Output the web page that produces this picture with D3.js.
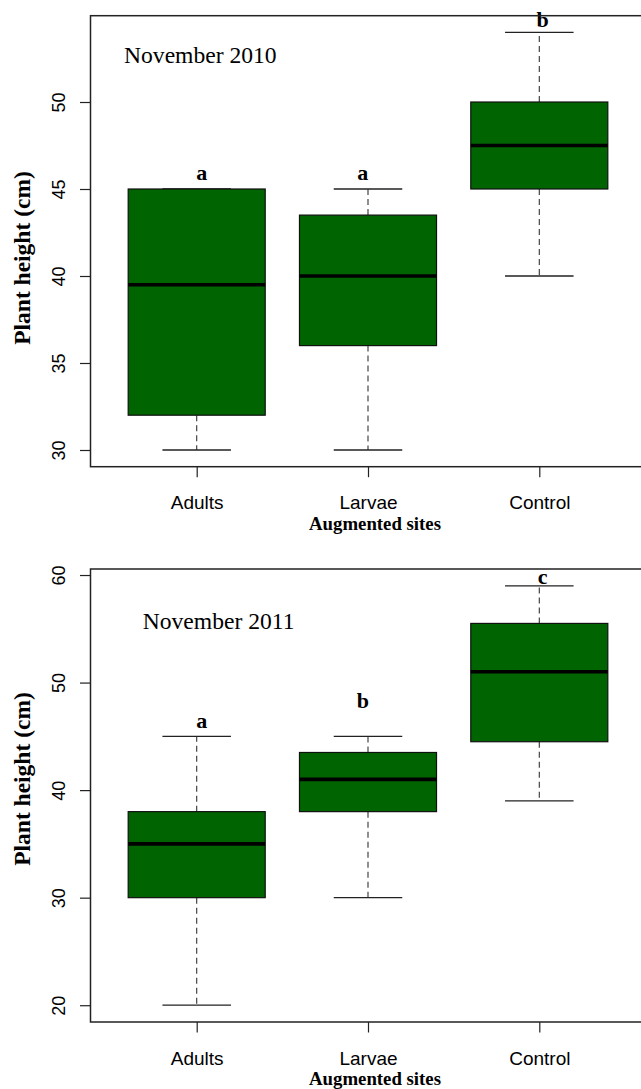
<!DOCTYPE html>
<html>
<head>
<meta charset="utf-8">
<script src="https://cdn.jsdelivr.net/npm/d3@7"></script>
<style>
  body { margin: 0; background: #ffffff; }
  svg { display: block; }
</style>
</head>
<body>
<div id="plant_chart"></div>
<script>
// groups on the x axis
var categories = ["Adults", "Larvae", "Control"];

// November 2010 box statistics (cm)
var nov2010Min    = [30, 30, 40];
var nov2010Q1     = [32, 36, 45];
var nov2010Median = [39.5, 40, 47.5];
var nov2010Q3     = [45, 43.5, 50];
var nov2010Max    = [45, 45, 54];
var nov2010Letters = ["a", "a", "b"];
var nov2010LetterY = [45.5, 45.5, 54.3];
var nov2010Ticks  = [30, 35, 40, 45, 50];

// November 2011 box statistics (cm)
var nov2011Min    = [20, 30, 39];
var nov2011Q1     = [30, 38, 44.5];
var nov2011Median = [35, 41, 51];
var nov2011Q3     = [38, 43.5, 55.5];
var nov2011Max    = [45, 45, 59];
var nov2011Letters = ["a", "b", "c"];
var nov2011LetterY = [45.8, 47.6, 59.2];
var nov2011Ticks  = [20, 30, 40, 50, 60];

// letters sit a little off the box centres
var letterX = [1.03, 1.97, 3.02];

var panelTitles = ["November 2010", "November 2011"];

function makeBoxes(mins, q1s, meds, q3s, maxs, letters, letterY) {
    return categories.map(function(c, i) {
        return {name: c, pos: i + 1, min: mins[i], q1: q1s[i], med: meds[i],
                q3: q3s[i], max: maxs[i], letter: letters[i], ly: letterY[i], lx: letterX[i]};
    });
}

var panels = [
    {title: panelTitles[0], ticks: nov2010Ticks,
     boxes: makeBoxes(nov2010Min, nov2010Q1, nov2010Median, nov2010Q3, nov2010Max, nov2010Letters, nov2010LetterY),
     top: 15.7, bottom: 466.7, titleX: 124, titleY: 63.3, ylabY: 258},
    {title: panelTitles[1], ticks: nov2011Ticks,
     boxes: makeBoxes(nov2011Min, nov2011Q1, nov2011Median, nov2011Q3, nov2011Max, nov2011Letters, nov2011LetterY),
     top: 569, bottom: 1022, titleX: 142.7, titleY: 629, ylabY: 779}
];

var width = 641, height = 1089;
var plotLeft = 90.5, plotRight = 645.5;

var svg = d3.select("#plant_chart")
  .append("svg")
    .attr("width", width)
    .attr("height", height);

svg.append("rect")
    .attr("width", width)
    .attr("height", height)
    .attr("fill", "#ffffff");

// R style x range: 0.5..n+0.5 widened by 4%
var n = categories.length;
var x = d3.scaleLinear()
    .domain([0.5 - 0.04 * n, n + 0.5 + 0.04 * n])
    .range([plotLeft, plotRight]);

var boxHalf = x(1.4) - x(1);
var capHalf = boxHalf / 2;

panels.forEach(function(p) {
    var lo = d3.min(p.boxes, function(d) { return d.min; });
    var hi = d3.max(p.boxes, function(d) { return d.max; });
    var pad = (hi - lo) * 0.04;

    var y = d3.scaleLinear()
        .domain([lo - pad, hi + pad])
        .range([p.bottom, p.top]);

    var g = svg.append("g");

    // whiskers (dashed) from box edges to the caps
    g.selectAll(".whisker-up")
        .data(p.boxes)
      .enter().append("line")
        .attr("x1", function(d) { return x(d.pos); })
        .attr("x2", function(d) { return x(d.pos); })
        .attr("y1", function(d) { return y(d.q3); })
        .attr("y2", function(d) { return y(d.max); })
        .attr("stroke", "#333")
        .attr("stroke-width", 1.1)
        .attr("stroke-dasharray", "6,4");

    g.selectAll(".whisker-down")
        .data(p.boxes)
      .enter().append("line")
        .attr("x1", function(d) { return x(d.pos); })
        .attr("x2", function(d) { return x(d.pos); })
        .attr("y1", function(d) { return y(d.q1); })
        .attr("y2", function(d) { return y(d.min); })
        .attr("stroke", "#333")
        .attr("stroke-width", 1.1)
        .attr("stroke-dasharray", "6,4");

    // caps
    ["min", "max"].forEach(function(k) {
        g.selectAll(".cap-" + k)
            .data(p.boxes)
          .enter().append("line")
            .attr("x1", function(d) { return x(d.pos) - capHalf; })
            .attr("x2", function(d) { return x(d.pos) + capHalf; })
            .attr("y1", function(d) { return y(d[k]); })
            .attr("y2", function(d) { return y(d[k]); })
            .attr("stroke", "#222")
            .attr("stroke-width", 1.3);
    });

    // boxes
    g.selectAll(".box")
        .data(p.boxes)
      .enter().append("rect")
        .attr("x", function(d) { return x(d.pos) - boxHalf; })
        .attr("y", function(d) { return y(d.q3); })
        .attr("width", boxHalf * 2)
        .attr("height", function(d) { return y(d.q1) - y(d.q3); })
        .attr("fill", "#006400")
        .attr("stroke", "#111")
        .attr("stroke-width", 1.2);

    // medians
    g.selectAll(".median")
        .data(p.boxes)
      .enter().append("line")
        .attr("x1", function(d) { return x(d.pos) - boxHalf; })
        .attr("x2", function(d) { return x(d.pos) + boxHalf; })
        .attr("y1", function(d) { return y(d.med); })
        .attr("y2", function(d) { return y(d.med); })
        .attr("stroke", "#000")
        .attr("stroke-width", 3.6);

    // significance letters
    g.selectAll(".letter")
        .data(p.boxes)
      .enter().append("text")
        .attr("x", function(d) { return x(d.lx); })
        .attr("y", function(d) { return y(d.ly); })
        .attr("text-anchor", "middle")
        .style("font-family", "'Liberation Serif', 'Times New Roman', serif")
        .style("font-weight", "bold")
        .style("font-size", "22px")
        .text(function(d) { return d.letter; });

    // frame
    g.append("rect")
        .attr("x", plotLeft)
        .attr("y", p.top)
        .attr("width", plotRight - plotLeft)
        .attr("height", p.bottom - p.top)
        .attr("fill", "none")
        .attr("stroke", "#222")
        .attr("stroke-width", 1.5);

    // Y axis
    var yAxis = g.append("g")
        .attr("transform", "translate(" + plotLeft + ",0)")
        .call(d3.axisLeft(y).tickValues(p.ticks).tickSize(10.5).tickFormat(d3.format("d")));
    yAxis.select(".domain").remove();
    yAxis.selectAll(".tick line").attr("stroke", "#222").attr("stroke-width", 1.2);
    yAxis.selectAll(".tick text")
        .attr("x", null)
        .attr("dy", null)
        .attr("transform", "translate(-25.5,0) rotate(-90)")
        .attr("text-anchor", "middle")
        .attr("fill", "#000")
        .style("font-family", "'Liberation Sans', Arial, sans-serif")
        .style("font-size", "18px");

    // X axis
    var xAxis = g.append("g")
        .attr("transform", "translate(0," + p.bottom + ")")
        .call(d3.axisBottom(x)
            .tickValues(d3.range(1, n + 1))
            .tickSize(10.5)
            .tickFormat(function(d) { return categories[d - 1]; }));
    xAxis.select(".domain").remove();
    xAxis.selectAll(".tick line").attr("stroke", "#222").attr("stroke-width", 1.2);
    xAxis.selectAll(".tick text")
        .attr("y", 42.6)
        .attr("dy", null)
        .attr("fill", "#000")
        .style("font-family", "'Liberation Sans', Arial, sans-serif")
        .style("font-size", "19px");

    // axis titles
    g.append("text")
        .attr("transform", "translate(30," + p.ylabY + ") rotate(-90)")
        .attr("text-anchor", "middle")
        .style("font-family", "'Liberation Serif', 'Times New Roman', serif")
        .style("font-weight", "bold")
        .style("font-size", "23.5px")
        .text("Plant height (cm)");

    g.append("text")
        .attr("x", 375)
        .attr("y", p.bottom + 63.3)
        .attr("text-anchor", "middle")
        .style("font-family", "'Liberation Serif', 'Times New Roman', serif")
        .style("font-weight", "bold")
        .style("font-size", "18.8px")
        .text("Augmented sites");

    // panel title
    g.append("text")
        .attr("x", p.titleX)
        .attr("y", p.titleY)
        .style("font-family", "'Liberation Serif', 'Times New Roman', serif")
        .style("font-size", "23.6px")
        .text(p.title);
});
</script>
</body>
</html>
